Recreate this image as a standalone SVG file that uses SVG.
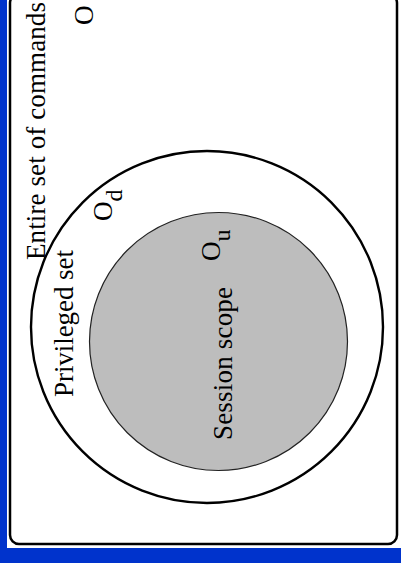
<svg xmlns="http://www.w3.org/2000/svg" width="401" height="563" viewBox="0 0 401 563">
  <style>
    .lbl { font-family: "Liberation Serif", "Times New Roman", serif; font-size: 27px; fill: #000; }
    .sub { font-size: 24px; }
    .frame { fill: none; stroke: #000; stroke-width: 2.5; }
    .outer { fill: #fff; stroke: #000; stroke-width: 2.4; }
    .inner { fill: #bdbdbd; stroke: #222; stroke-width: 1.2; }
  </style>
  <rect x="0" y="0" width="401" height="563" fill="#0033cc"/>
  <rect x="7" y="-10" width="394" height="558" fill="#fff"/>
  <g id="universe">
    <rect class="frame" x="10" y="-6" width="387" height="550" rx="9"/>
    <text class="lbl" transform="translate(45,260) rotate(-90)" textLength="258" lengthAdjust="spacing">Entire set of commands</text>
    <text class="lbl" transform="translate(93,25) rotate(-90)">O</text>
  </g>
  <g id="privileged-set">
    <circle class="outer" cx="207" cy="327" r="176"/>
    <text class="lbl" transform="translate(112,221) rotate(-90)">O<tspan class="sub" dy="10">d</tspan></text>
    <text class="lbl" transform="translate(73,397) rotate(-90)" textLength="147" lengthAdjust="spacing">Privileged set</text>
  </g>
  <g id="session-scope">
    <circle class="inner" cx="218.5" cy="341.5" r="129"/>
    <text class="lbl" transform="translate(232,440) rotate(-90)" textLength="153" lengthAdjust="spacing">Session scope</text>
    <text class="lbl" transform="translate(220,261) rotate(-90)">O<tspan class="sub" dy="10">u</tspan></text>
  </g>
  <g id="connectors"/>
</svg>
